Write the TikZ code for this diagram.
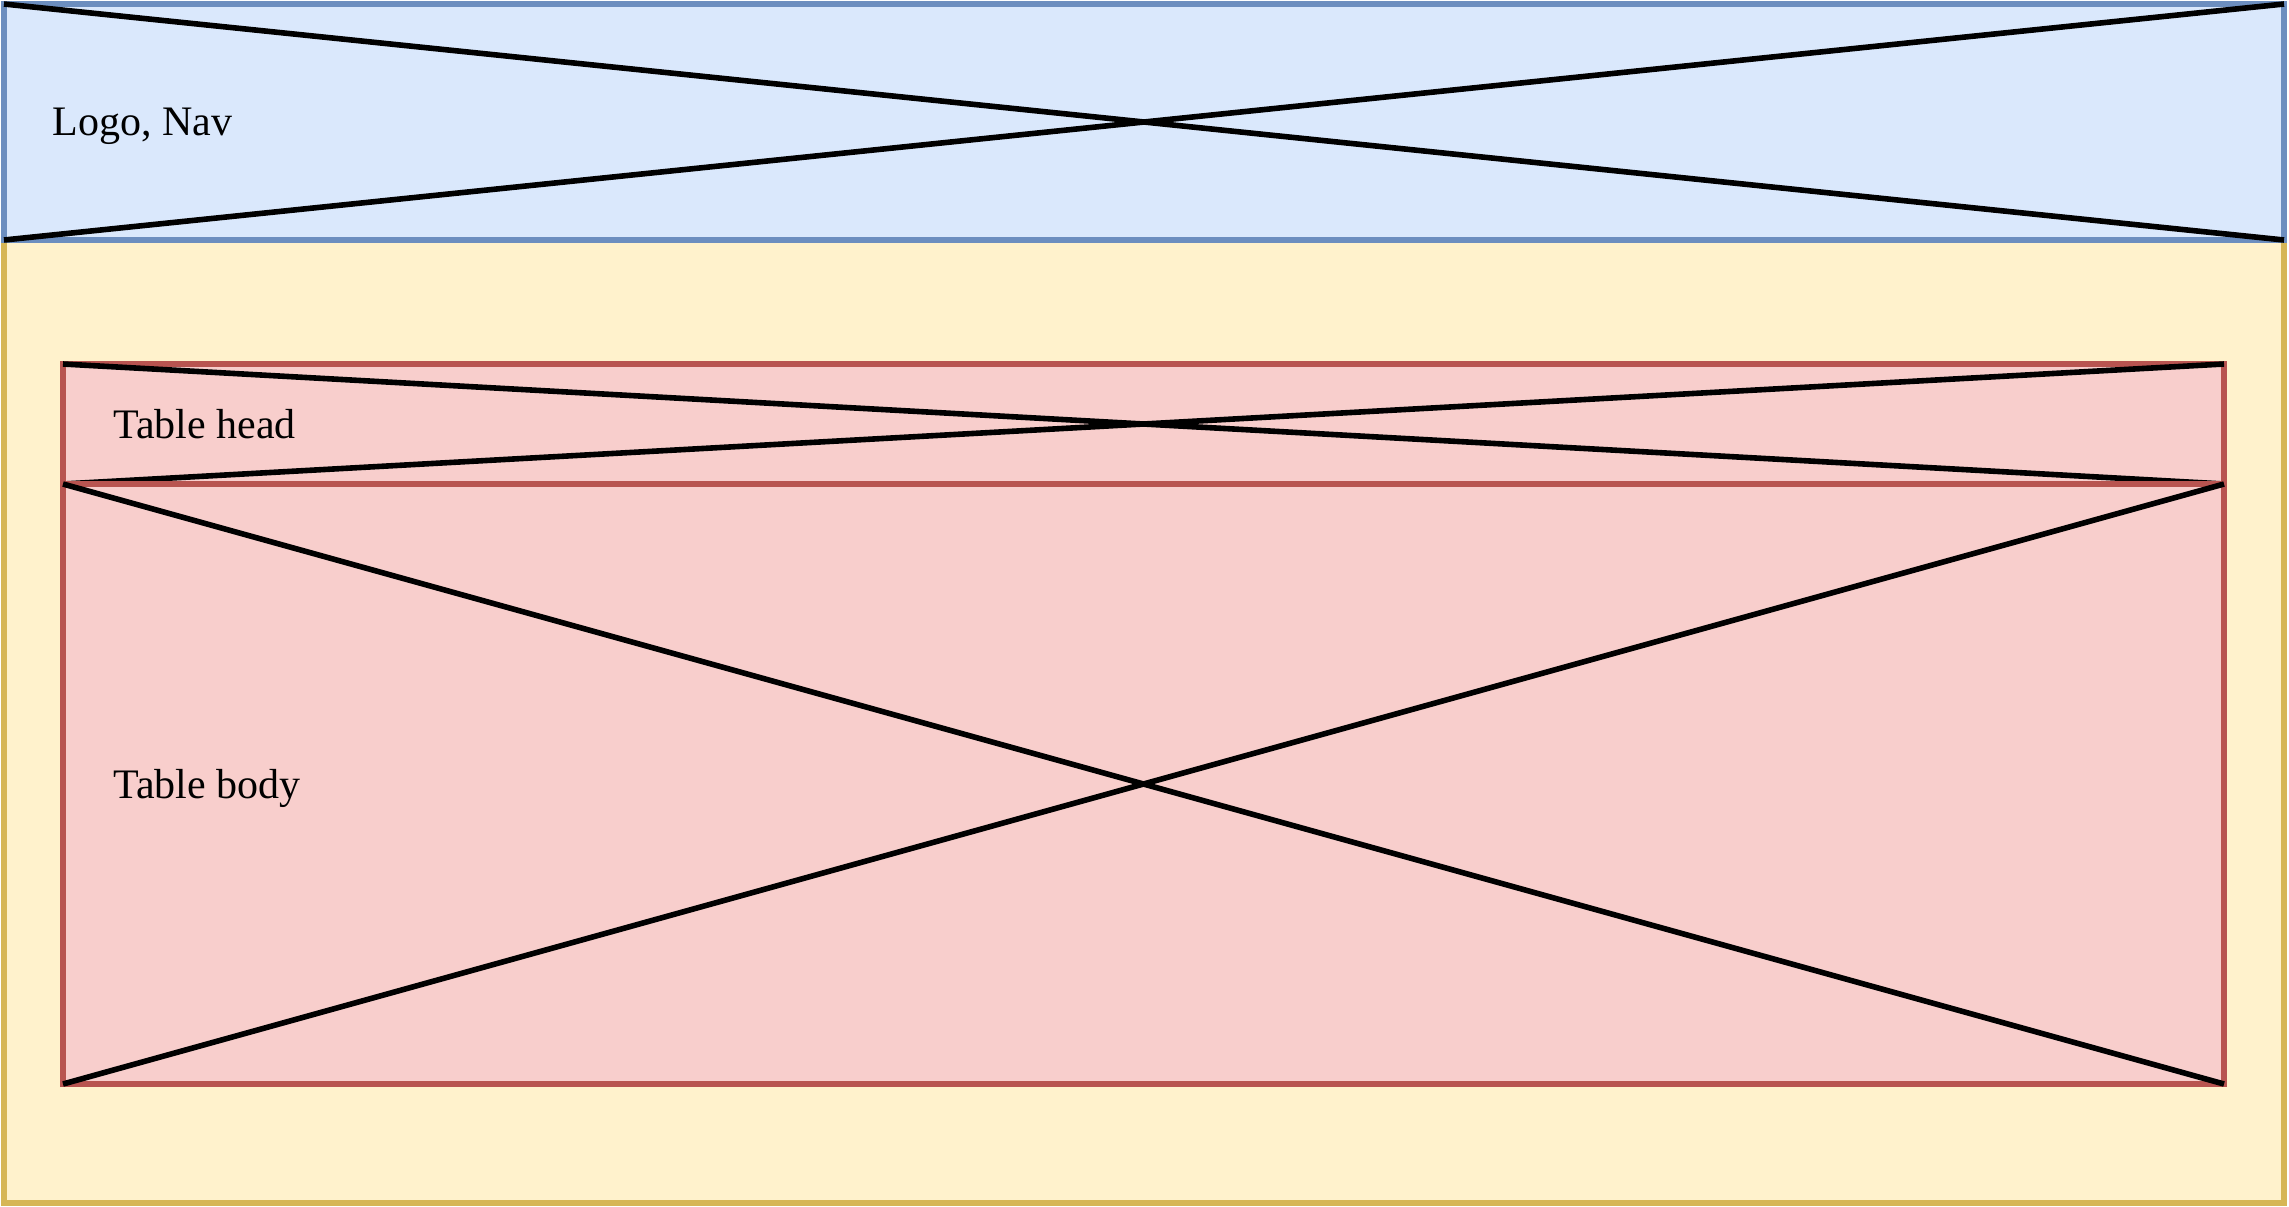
\documentclass[tikz,border=0pt]{standalone}
\usepackage{fontspec}
\setmainfont{Liberation Serif}
\usetikzlibrary{positioning}

\definecolor{hdrfill}{HTML}{DAE8FC}
\definecolor{hdrdraw}{HTML}{6C8EBF}
\definecolor{mainfill}{HTML}{FFF2CC}
\definecolor{maindraw}{HTML}{D6B656}
\definecolor{tblfill}{HTML}{F8CECC}
\definecolor{tbldraw}{HTML}{B85450}

\begin{document}
\begin{tikzpicture}[
  x=0.5pt,y=-0.5pt,
  font=\fontsize{21}{25}\selectfont,
  area/.style={draw,rectangle,line width=3pt,outer sep=0pt,inner sep=0pt,anchor=north west},
  hdrbox/.style={area,draw=hdrdraw,fill=hdrfill},
  mainbox/.style={area,draw=maindraw,fill=mainfill},
  tblbox/.style={area,draw=tbldraw,fill=tblfill},
  xline/.style={draw=black,line width=2.8pt},
  label_style/.style={anchor=base west,inner sep=0pt},
]
\useasboundingbox (0,0) rectangle (2289,1206);

%% ===== Page body =============================================================
\node[mainbox,minimum width=1140pt,minimum height=481.5pt] (main) at (4,240) {};

%% ===== Header ================================================================
\node[hdrbox,minimum width=1140pt,minimum height=118pt] (hdr) at (4,4) {};
\draw[xline] (hdr.north west) -- (hdr.south east);
\draw[xline] (hdr.south west) -- (hdr.north east);
\node[label_style] (hdrtxt) at (52,135) {Logo, Nav};

%% ===== Table head ============================================================
\node[tblbox,minimum width=1080.5pt,minimum height=60pt] (thead) at (63,364) {};
\draw[xline] (thead.north west) -- (thead.south east);
\draw[xline] (thead.south west) -- (thead.north east);
\node[label_style] (theadtxt) at (113,438) {Table head};

%% ===== Table body ============================================================
\node[tblbox,minimum width=1080.5pt,minimum height=300pt] (tbody) at (63,484) {};
\draw[xline] (tbody.north west) -- (tbody.south east);
\draw[xline] (tbody.south west) -- (tbody.north east);
\node[label_style] (tbodytxt) at (113,798) {Table body};

\end{tikzpicture}
\end{document}
